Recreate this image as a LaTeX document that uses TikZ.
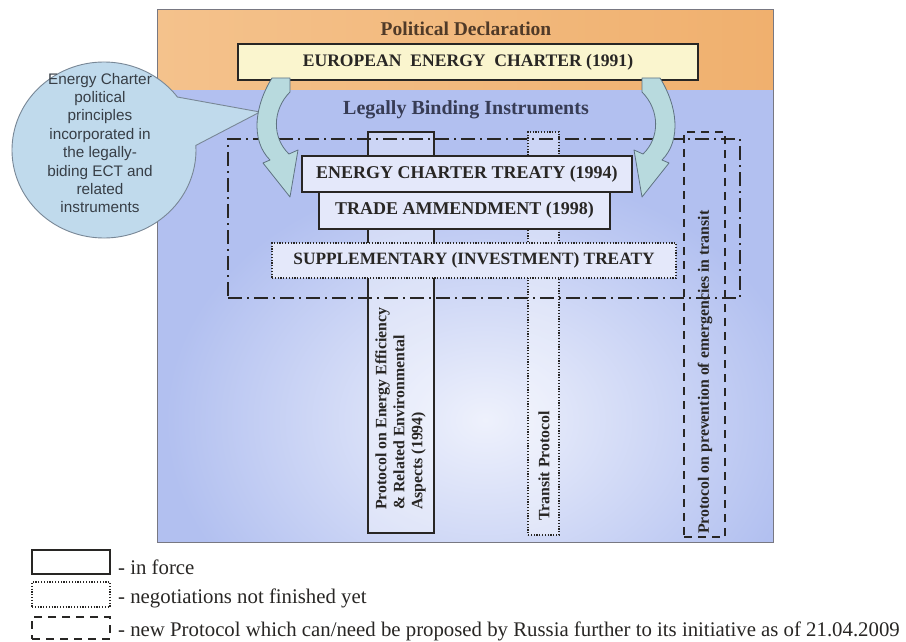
\documentclass[tikz,border=0pt]{standalone}
\usepackage{fontspec}
\setmainfont{Liberation Serif}
\newfontfamily\bubblefont{Liberation Sans}

\definecolor{bandlight}{RGB}{244,194,140}
\definecolor{bandorange}{RGB}{240,176,110}
\definecolor{panelblue}{RGB}{178,192,240}
\definecolor{glow}{RGB}{238,241,252}
\definecolor{framegray}{RGB}{120,120,130}
\definecolor{boxfill}{RGB}{228,232,250}
\definecolor{charterfill}{RGB}{250,245,206}
\definecolor{bubblefill}{RGB}{192,218,236}
\definecolor{bubbleedge}{RGB}{120,135,150}
\definecolor{bubbleink}{RGB}{55,62,70}
\definecolor{arrowfill}{RGB}{184,218,222}
\definecolor{arrowedge}{RGB}{95,115,130}
\definecolor{inkdark}{RGB}{40,38,36}
\definecolor{declbrown}{RGB}{80,58,40}
\definecolor{lbiink}{RGB}{55,60,85}

\tikzset{
  headfont/.style={font=\bfseries\fontsize{19.5}{22}\selectfont},
  treatybox/.style={draw=inkdark, line width=1.8pt, fill=boxfill, inner sep=0pt,
    text=inkdark, font=\bfseries\fontsize{18}{20}\selectfont},
  suppbox/.style={draw=inkdark, line width=2.2pt, dash pattern=on 1.2pt off 1.6pt,
    fill=boxfill, inner sep=0pt, text=inkdark, font=\bfseries\fontsize{17.3}{20}\selectfont},
  charterbox/.style={draw=inkdark, line width=2.4pt, fill=charterfill, inner sep=0pt,
    text=inkdark, font=\bfseries\fontsize{17.6}{20}\selectfont},
  tallsolid/.style={draw=inkdark, line width=2pt, fill=white, fill opacity=0.35, inner sep=0pt},
  talldotted/.style={draw=inkdark, line width=2.2pt, dash pattern=on 1.2pt off 1.6pt,
    fill=white, fill opacity=0.35, inner sep=0pt},
  talldashed/.style={draw=inkdark, line width=2pt, dash pattern=on 8pt off 6pt, inner sep=0pt},
  dashdotbox/.style={draw=inkdark, line width=2pt, dash pattern=on 14pt off 5pt on 2pt off 5pt, inner sep=0pt},
  rottext/.style={rotate=90, inner sep=0pt, text=inkdark, font=\bfseries\fontsize{15.8}{18}\selectfont},
  bubble/.style={fill=bubblefill, draw=bubbleedge, line width=0.9pt},
  curvedarrow/.style={fill=arrowfill, draw=arrowedge, line width=0.8pt, line join=round},
  keysolid/.style={draw=inkdark, line width=2.4pt, inner sep=0pt},
  keydotted/.style={draw=inkdark, line width=2.2pt, dash pattern=on 1.2pt off 1.6pt, inner sep=0pt},
  keydashed/.style={draw=inkdark, line width=2pt, dash pattern=on 8pt off 6pt, inner sep=0pt},
  keytext/.style={anchor=base west, inner sep=0pt, text=inkdark, font=\fontsize{20.8}{23}\selectfont},
}

\begin{document}
\begin{tikzpicture}[x=1pt,y=1pt]
\useasboundingbox (0,0) rectangle (906,-642);
\fill[white] (0,0) rectangle (906,-642);

% --- panel: political band on top, legally binding area below ---
\fill[panelblue] (157,-90) rectangle (773,-542);
\begin{scope}
  \clip (157,-90) rectangle (773,-542);
  \shade[inner color=glow, outer color=panelblue] (485,-420) ellipse (320 and 250);
\end{scope}
\shade[left color=bandlight, right color=bandorange] (157,-10) rectangle (773,-90);
\draw[framegray, line width=1pt] (157,-10) rectangle (773,-542);

% --- callout bubble ---
\path[bubble] (260,-112) -- (177.47,-97.04)
  arc[start angle=37, end angle=363, x radius=92, y radius=88] -- cycle;
\node[align=center, inner sep=0pt, text=bubbleink,
      font=\bubblefont\fontsize{15.3}{18.4}\selectfont] (bubbletext) at (100,-143)
  {Energy Charter\\political\\principles\\incorporated in\\the legally-\\biding ECT and\\related\\instruments};

% --- political declaration ---
\node[headfont, text=declbrown] (decl) at (466,-29) {Political Declaration};
\node[charterbox, minimum width=460, minimum height=36] (eec) at (468,-62)
  {EUROPEAN\ \ ENERGY\ \ CHARTER (1991)};
\node[headfont, font=\bfseries\fontsize{20}{22}\selectfont, text=lbiink] (lbi) at (466,-110)
  {Legally Binding Instruments};

% --- protocols (tall columns) ---
\node[tallsolid, minimum width=66, minimum height=401] (eeprot) at (401,-332.5) {};
\node[talldotted, minimum width=31, minimum height=403] (transit) at (543.5,-333.5) {};
\node[talldashed, minimum width=41, minimum height=405] (prevention) at (704.5,-334.5) {};

\node[rottext, anchor=north west, align=left] (eetext) at (375,-510)
  {Protocol on Energy Efficiency\\\& Related Environmental\\Aspects (1994)};
\node[rottext, anchor=west] (transittext) at (544,-521) {Transit Protocol};
\node[rottext, anchor=west] (preventiontext) at (705,-534)
  {Protocol on prevention of emergencies in transit};

% --- scope of the treaty and related instruments ---
\node[dashdotbox, minimum width=512, minimum height=159] (ectscope) at (484,-218.5) {};

% --- curved arrows from the charter down to the treaty ---
\path[curvedarrow]
  (290,-78) -- (272,-78)
  .. controls (255,-105) and (250,-140) .. (270,-160)
  -- (263,-163) -- (290,-197) -- (298,-150) -- (289,-154)
  .. controls (272,-138) and (272,-110) .. (290,-92) -- cycle;
\path[curvedarrow]
  (642,-78) -- (660,-78)
  .. controls (677,-105) and (682,-140) .. (662,-160)
  -- (669,-163) -- (642,-197) -- (634,-150) -- (643,-154)
  .. controls (660,-138) and (660,-110) .. (642,-92) -- cycle;

% --- treaty blocks ---
\node[treatybox, minimum width=330, minimum height=36] (ect) at (467,-174)
  {ENERGY CHARTER TREATY (1994)};
\node[treatybox, minimum width=291, minimum height=37] (trade) at (464.5,-210.5)
  {TRADE AMMENDMENT (1998)};
\node[suppbox, minimum width=404, minimum height=35] (supp) at (474,-260.5)
  {SUPPLEMENTARY (INVESTMENT) TREATY};

% --- key ---
\node[keysolid, minimum width=78, minimum height=24] (keyforce) at (71,-562) {};
\node[keydotted, minimum width=78, minimum height=25] (keypending) at (71,-594.5) {};
\node[keydashed, minimum width=78, minimum height=22] (keynew) at (71,-628) {};
\node[keytext] (keyforcetext) at (118,-574) {- in force};
\node[keytext] (keypendingtext) at (118,-603) {- negotiations not finished yet};
\node[keytext] (keynewtext) at (118,-636)
  {- new Protocol which can/need be proposed by Russia further to its initiative as of 21.04.2009};
\end{tikzpicture}
\end{document}
